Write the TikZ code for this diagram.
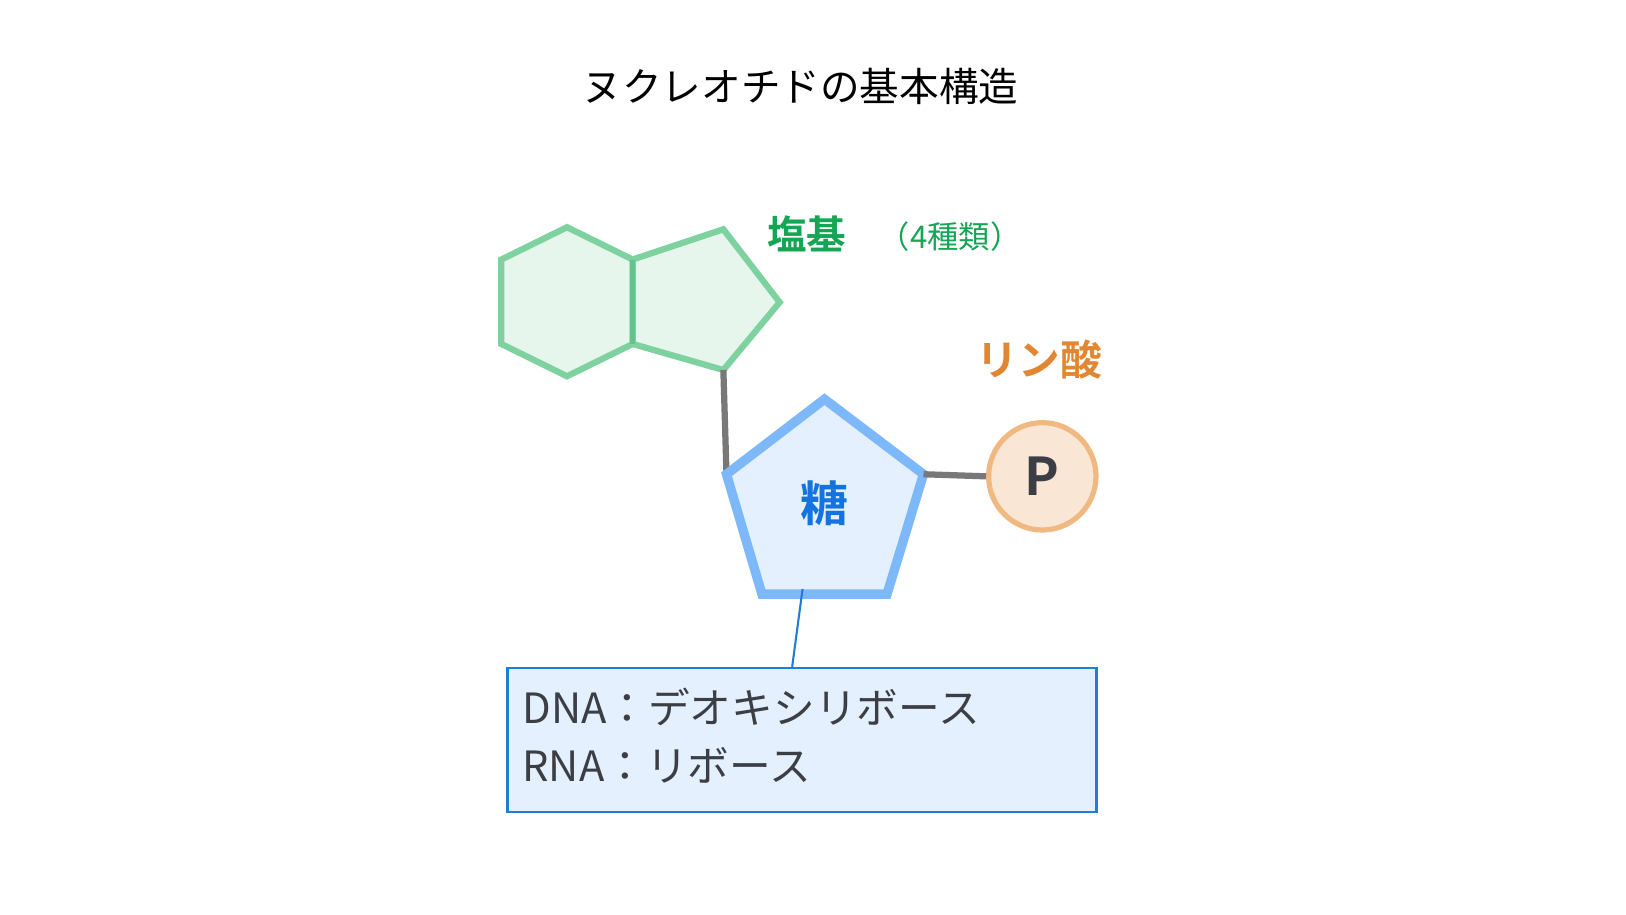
\documentclass[tikz,border=0pt]{standalone}
\usepackage{fontspec}
\setmainfont{Noto Sans CJK JP}[BoldFont={Noto Sans CJK JP Bold}]
\definecolor{gline}{RGB}{125,210,160}
\definecolor{gmid}{RGB}{100,195,140}
\definecolor{gfill}{RGB}{230,246,236}
\definecolor{bline}{RGB}{125,185,250}
\definecolor{bfill}{RGB}{228,240,253}
\definecolor{btext}{RGB}{20,115,225}
\definecolor{oline}{RGB}{240,185,130}
\definecolor{ofill}{RGB}{250,230,212}
\definecolor{gtext}{RGB}{20,165,85}
\definecolor{otext}{RGB}{225,135,50}
\definecolor{dtext}{RGB}{60,62,70}
\definecolor{boxl}{RGB}{30,125,215}
\definecolor{bondc}{RGB}{120,120,120}
\tikzset{bond/.style={draw=bondc,line width=6}}
\begin{document}
\begin{tikzpicture}[x=1pt,y=-1pt]
\useasboundingbox (0,0) rectangle (1560,877);
\node (title) at (768,83) {\fontsize{38}{44}\selectfont ヌクレオチドの基本構造};
% base
\coordinate (h1) at (544,218); \coordinate (h2) at (607,249); \coordinate (h3) at (607,330);
\coordinate (h4) at (544,361); \coordinate (h5) at (481,330); \coordinate (h6) at (481,249);
\coordinate (p2) at (694,220); \coordinate (p3) at (748,290); \coordinate (p4) at (694,355);
\draw[gline,fill=gfill,line width=6,line join=miter] (h1)--(h2)--(h3)--(h4)--(h5)--(h6)--cycle;
\draw[gline,fill=gfill,line width=6,line join=miter] (h2)--(p2)--(p3)--(p4)--(h3)--cycle;
\draw[gmid,line width=5] (h2)--(h3);
% sugar
\coordinate (s1) at (791,383); \coordinate (s2) at (886,455); \coordinate (s3) at (851,570);
\coordinate (s4) at (731,570); \coordinate (s5) at (697,455);
\draw[bond] (p4)--(s5);
\draw[bline,fill=bfill,line width=9,line join=miter] (s1)--(s2)--(s3)--(s4)--(s5)--cycle;
\node[text=btext] (sugar) at (791,483) {\fontsize{46}{50}\selectfont\bfseries 糖};
% phosphate
\node[circle,draw=oline,fill=ofill,line width=5,minimum size=103,inner sep=0] (P) at (1000,457) {};
\draw[bond] (s2)--(P.west);
\node[text=dtext] at (P.center) {\fontsize{50}{54}\selectfont\bfseries P};
% labels
\node[text=gtext,anchor=west,inner sep=0] (base) at (736,224) {\fontsize{38}{44}\selectfont\bfseries 塩基};
\node[text=gtext,anchor=west,inner sep=0] (kinds) at (843,227) {\fontsize{30}{36}\selectfont（4種類）};
\node[text=otext,inner sep=0] (rinsan) at (997,345) {\fontsize{40}{46}\selectfont\bfseries リン酸};
% box
\node[draw=boxl,fill=bfill,line width=2.5,minimum width=565,minimum height=138,inner sep=0] (box) at (769.5,710) {};
\node[text=dtext,anchor=west,inner sep=0] (l1) at (501,678) {\fontsize{40}{46}\selectfont DNA：デオキシリボース};
\node[text=dtext,anchor=west,inner sep=0] (l2) at (501,734) {\fontsize{40}{46}\selectfont RNA：リボース};
\coordinate (sb) at (770,565);
\draw[boxl,line width=2] (sb)--(box.north -| 760,0);
\end{tikzpicture}
\end{document}
